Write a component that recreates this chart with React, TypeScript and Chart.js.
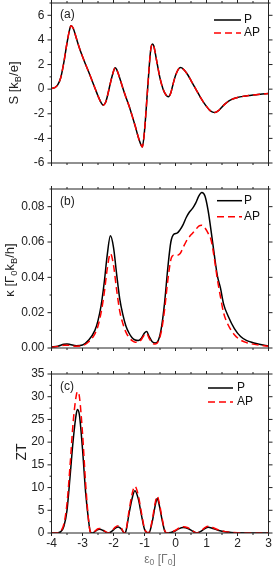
import React, { useEffect, useRef } from "react";
import { Chart, registerables } from "chart.js";

Chart.register(...registerables);

// ---------- data ----------
const xTicks = [-4, -3, -2, -1, 0, 1, 2, 3];
const sTicks = [-6, -4, -2, 0, 2, 4, 6];
const kTicks = [0, 0.02, 0.04, 0.06, 0.08];
const zTicks = [0, 5, 10, 15, 20, 25, 30, 35];
const seriesNames = ["P", "AP"];

const sX = [-4.0, -3.9, -3.8, -3.7, -3.6, -3.5, -3.4, -3.37, -3.3, -3.2, -3.1, -3.0, -2.9, -2.8, -2.7, -2.6, -2.5, -2.4, -2.33, -2.25, -2.2, -2.1, -2.0, -1.95, -1.9, -1.8, -1.7, -1.6, -1.5, -1.4, -1.3, -1.2, -1.1, -1.07, -1.0, -0.9, -0.8, -0.74, -0.7, -0.6, -0.5, -0.4, -0.3, -0.23, -0.15, -0.1, 0.0, 0.1, 0.17, 0.3, 0.4, 0.5, 0.6, 0.7, 0.8, 0.9, 1.0, 1.1, 1.2, 1.27, 1.4, 1.5, 1.6, 1.7, 1.8, 2.0, 2.2, 2.4, 2.6, 2.8, 3.0];
const sP = [0.05, 0.12, 0.35, 0.95, 2.2, 3.75, 5.0, 5.15, 4.95, 4.15, 3.35, 2.65, 2.0, 1.4, 0.75, 0.1, -0.55, -1.1, -1.3, -1.05, -0.6, 0.5, 1.45, 1.73, 1.6, 0.9, 0.1, -0.65, -1.35, -2.15, -3.0, -3.9, -4.6, -4.7, -3.4, 0.0, 3.2, 3.66, 3.5, 2.2, 0.9, 0.0, -0.5, -0.62, -0.3, 0.2, 1.1, 1.65, 1.75, 1.5, 1.15, 0.7, 0.25, -0.2, -0.65, -1.05, -1.4, -1.7, -1.87, -1.9, -1.72, -1.45, -1.2, -1.0, -0.85, -0.68, -0.58, -0.51, -0.45, -0.4, -0.35];
const sAP = [0.05, 0.12, 0.35, 0.95, 2.2, 3.75, 5.0, 5.15, 4.95, 4.15, 3.35, 2.65, 2.0, 1.4, 0.75, 0.1, -0.55, -1.1, -1.3, -1.05, -0.6, 0.5, 1.45, 1.73, 1.6, 0.9, 0.1, -0.65, -1.35, -2.15, -3.0, -3.9, -4.6, -4.7, -3.4, 0.0, 3.2, 3.66, 3.5, 2.2, 0.9, 0.0, -0.5, -0.62, -0.3, 0.2, 1.1, 1.65, 1.75, 1.5, 1.15, 0.7, 0.25, -0.2, -0.65, -1.05, -1.4, -1.7, -1.87, -1.9, -1.72, -1.45, -1.2, -1.0, -0.85, -0.68, -0.58, -0.51, -0.45, -0.4, -0.35];

const kX = [-4, -3.8, -3.6, -3.5, -3.4, -3.2, -3.0, -2.8, -2.6, -2.5, -2.4, -2.3, -2.2, -2.1, -2.0, -1.9, -1.8, -1.7, -1.6, -1.5, -1.4, -1.3, -1.2, -1.1, -1.0, -0.93, -0.85, -0.75, -0.65, -0.55, -0.45, -0.35, -0.25, -0.15, -0.05, 0.05, 0.15, 0.25, 0.35, 0.45, 0.55, 0.65, 0.75, 0.85, 0.95, 1.05, 1.15, 1.25, 1.35, 1.45, 1.55, 1.7, 1.9, 2.1, 2.3, 2.5, 2.7, 3.0];
const kP = [0.0006, 0.001, 0.0021, 0.0023, 0.002, 0.0013, 0.0017, 0.0045, 0.010, 0.0155, 0.024, 0.037, 0.053, 0.0635, 0.057, 0.042, 0.028, 0.019, 0.0125, 0.0085, 0.0058, 0.0045, 0.0042, 0.0055, 0.0085, 0.0093, 0.0065, 0.0035, 0.0028, 0.0045, 0.012, 0.026, 0.045, 0.060, 0.0645, 0.065, 0.067, 0.070, 0.074, 0.077, 0.079, 0.082, 0.086, 0.088, 0.086, 0.078, 0.066, 0.053, 0.041, 0.034, 0.025, 0.018, 0.011, 0.0065, 0.0042, 0.003, 0.0021, 0.0012];
const kAP = [0.0004, 0.0008, 0.0015, 0.0016, 0.0014, 0.001, 0.0013, 0.0035, 0.008, 0.0125, 0.020, 0.031, 0.045, 0.0535, 0.047, 0.033, 0.021, 0.014, 0.009, 0.006, 0.0042, 0.0033, 0.0033, 0.0048, 0.0075, 0.0082, 0.0055, 0.0028, 0.0022, 0.0038, 0.010, 0.022, 0.038, 0.050, 0.0525, 0.0525, 0.0535, 0.057, 0.0605, 0.063, 0.065, 0.067, 0.069, 0.0695, 0.068, 0.065, 0.061, 0.051, 0.039, 0.029, 0.020, 0.013, 0.0075, 0.0045, 0.003, 0.0022, 0.0016, 0.001];

const zX = [-4.0, -3.8, -3.7, -3.6, -3.5, -3.4, -3.3, -3.2, -3.16, -3.1, -3.0, -2.9, -2.8, -2.75, -2.7, -2.6, -2.5, -2.44, -2.35, -2.25, -2.15, -2.05, -1.95, -1.85, -1.75, -1.65, -1.6, -1.5, -1.4, -1.31, -1.2, -1.1, -1.0, -0.9, -0.85, -0.75, -0.65, -0.59, -0.52, -0.45, -0.35, -0.28, -0.15, 0.0, 0.1, 0.25, 0.4, 0.55, 0.68, 0.8, 0.95, 1.06, 1.2, 1.4, 1.6, 1.8, 2.0, 2.5, 3.0];
const zP = [0, 0.05, 0.3, 1.5, 5, 12.5, 20.5, 26.3, 27.2, 26.0, 18.5, 9, 2.5, 0.3, 0, 0.3, 0.75, 0.8, 0.6, 0.2, 0.02, 0.4, 1.0, 1.3, 0.9, 0.02, 0.4, 4.2, 7.6, 9.3, 7.5, 4.0, 0.8, 0.05, 0.1, 2.5, 6.2, 7.6, 6.0, 3.5, 0.5, 0, 0.1, 0.5, 0.9, 1.2, 1.0, 0.4, 0.02, 0.3, 1.0, 1.25, 1.0, 0.55, 0.25, 0.1, 0.04, 0.01, 0];
const zAP = [0, 0.05, 0.4, 2.0, 6.5, 15, 24.5, 30.3, 31.1, 30.0, 22, 11, 2.5, 0.3, 0, 0.4, 0.95, 1.0, 0.75, 0.25, 0.02, 0.5, 1.25, 1.6, 1.1, 0.02, 0.45, 4.8, 8.6, 10.3, 8.3, 4.5, 1.0, 0.05, 0.15, 2.9, 6.8, 8.1, 6.5, 3.9, 0.6, 0, 0.15, 0.6, 1.05, 1.4, 1.15, 0.5, 0.03, 0.35, 1.2, 1.5, 1.2, 0.65, 0.3, 0.12, 0.05, 0.01, 0];

// ---------- layout ----------
type Panel = {
  top: number; height: number; padTop: number; xHeight: number;
  yMin: number; yMax: number; yTicks: number[]; yMinor: number; dec: number;
  xLabels: boolean; x: number[]; p: number[]; ap: number[];
  tag: string; tagX: number; tagY: number;
  lg: { x1: number; x2: number; tx: number; y1: number; y2: number };
};

const FONT = "'Liberation Sans', Arial, sans-serif";
const W = 274;
const LEFT = 51.5;
const RIGHT_PAD = 5.5;

const panels: Panel[] = [
  { top: 0, height: 176, padTop: 3, xHeight: 13, yMin: -6, yMax: 7, yTicks: sTicks, yMinor: 1, dec: 0,
    xLabels: false, x: sX, p: sP, ap: sAP, tag: "(a)", tagX: 60, tagY: 15,
    lg: { x1: 214, x2: 241, tx: 244, y1: 20, y2: 33 } },
  { top: 176, height: 184, padTop: 13, xHeight: 12, yMin: 0, yMax: 0.09, yTicks: kTicks, yMinor: 0.01, dec: 2,
    xLabels: false, x: kX, p: kP, ap: kAP, tag: "(b)", tagX: 60, tagY: 26,
    lg: { x1: 217, x2: 242, tx: 244, y1: 24.7, y2: 40.7 } },
  { top: 360, height: 209, padTop: 14, xHeight: 36, yMin: 0, yMax: 35, yTicks: zTicks, yMinor: 2.5, dec: 0,
    xLabels: true, x: zX, p: zP, ap: zAP, tag: "(c)", tagX: 60, tagY: 27,
    lg: { x1: 208, x2: 233, tx: 237, y1: 28, y2: 42 } },
];

function isMajor(v: number, arr: number[]) {
  return arr.some((t) => Math.abs(t - v) < 1e-9);
}

function makePlugin(pn: Panel) {
  return {
    id: "frame",
    afterDatasetsDraw(chart: any) {
      const { ctx, chartArea: a, scales } = chart;
      ctx.save();
      ctx.strokeStyle = "#222";
      ctx.lineWidth = 1;
      ctx.setLineDash([]);
      ctx.strokeRect(a.left, a.top, a.right - a.left, a.bottom - a.top);
      const line = (x1: number, y1: number, x2: number, y2: number) => {
        ctx.beginPath(); ctx.moveTo(x1, y1); ctx.lineTo(x2, y2); ctx.stroke();
      };
      // x ticks
      const nx = Math.round((3 - -4) / 0.5);
      for (let i = 0; i <= nx; i++) {
        const v = -4 + i * 0.5;
        const px = scales.x.getPixelForValue(v);
        const len = isMajor(v, xTicks) ? 3 : 2;
        line(px, a.bottom, px, a.bottom + len);
        line(px, a.top, px, a.top - len);
      }
      // y ticks
      const ny = Math.round((pn.yMax - pn.yMin) / pn.yMinor);
      for (let i = 0; i <= ny; i++) {
        const v = pn.yMin + i * pn.yMinor;
        const py = scales.y.getPixelForValue(v);
        const len = isMajor(v, pn.yTicks) ? 4 : 2;
        line(a.left - len, py, a.left, py);
        line(a.right, py, a.right + len, py);
      }
      // panel tag
      ctx.fillStyle = "#222";
      ctx.font = `12px ${FONT}`;
      ctx.textBaseline = "middle";
      ctx.textAlign = "left";
      ctx.fillText(pn.tag, pn.tagX, pn.tagY);
      // legend
      const L = pn.lg;
      ctx.lineWidth = 1.5;
      ctx.strokeStyle = "#000";
      line(L.x1, L.y1, L.x2, L.y1);
      ctx.strokeStyle = "#ff0000";
      ctx.setLineDash([7, 4]);
      line(L.x1, L.y2, L.x2, L.y2);
      ctx.setLineDash([]);
      ctx.fillStyle = "#111";
      ctx.fillText(seriesNames[0], L.tx, L.y1);
      ctx.fillText(seriesNames[1], L.tx, L.y2);
      ctx.restore();
    },
  };
}

function makeConfig(pn: Panel): any {
  const pts = (ys: number[]) => pn.x.map((x, i) => ({ x, y: ys[i] }));
  return {
    type: "line",
    data: {
      datasets: [
        { label: seriesNames[0], data: pts(pn.p), borderColor: "#000", borderWidth: 1.5, pointRadius: 0,
          cubicInterpolationMode: "monotone", fill: false, order: 2 },
        { label: seriesNames[1], data: pts(pn.ap), borderColor: "#ff0000", borderWidth: 1.5, borderDash: [7, 4],
          pointRadius: 0, cubicInterpolationMode: "monotone", fill: false, order: 1 },
      ],
    },
    options: {
      animation: false,
      responsive: false,
      maintainAspectRatio: false,
      events: [],
      layout: { padding: { top: pn.padTop, right: RIGHT_PAD, left: 0, bottom: 0 } },
      plugins: { legend: { display: false }, tooltip: { enabled: false } },
      scales: {
        x: {
          type: "linear", min: -4, max: 3, position: "bottom",
          grid: { display: false, drawTicks: true, tickLength: 3 },
          border: { display: false },
          ticks: { display: pn.xLabels, autoSkip: false, maxRotation: 0, padding: 0, color: "#222",
            font: { family: FONT, size: 12 }, callback: (v: number) => String(v) },
          afterBuildTicks: (s: any) => { s.ticks = xTicks.map((v) => ({ value: v })); },
          afterFit: (s: any) => { s.height = pn.xHeight; s.paddingLeft = 0; s.paddingRight = 0; s.paddingTop = 0; s.paddingBottom = 0; },
        },
        y: {
          type: "linear", min: pn.yMin, max: pn.yMax, position: "left",
          grid: { display: false, drawTicks: true, tickLength: 4 },
          border: { display: false },
          ticks: { autoSkip: false, padding: 3, color: "#222", font: { family: FONT, size: 12 },
            callback: (v: number) => Number(v).toFixed(pn.dec) },
          afterBuildTicks: (s: any) => { s.ticks = pn.yTicks.map((v) => ({ value: v })); },
          afterFit: (s: any) => { s.width = LEFT; s.paddingLeft = 0; s.paddingRight = 0; s.paddingTop = 0; s.paddingBottom = 0; },
        },
      },
    },
    plugins: [makePlugin(pn)],
  };
}

function PanelChart({ pn }: { pn: Panel }) {
  const ref = useRef<HTMLCanvasElement>(null);
  useEffect(() => {
    const chart = new Chart(ref.current as HTMLCanvasElement, makeConfig(pn));
    return () => chart.destroy();
  }, [pn]);
  return (
    <canvas ref={ref} width={W} height={pn.height}
      style={{ position: "absolute", left: 0, top: pn.top, width: W, height: pn.height, display: "block" }} />
  );
}

const subStyle: React.CSSProperties = { fontSize: "0.72em", verticalAlign: "-0.3em", lineHeight: 1 };

function YTitle({ cx, cy, size, children }: { cx: number; cy: number; size: number; children: React.ReactNode }) {
  return (
    <div style={{ position: "absolute", left: cx, top: cy, transform: "translate(-50%, -50%) rotate(-90deg)",
      whiteSpace: "nowrap", fontFamily: FONT, fontSize: size, color: "#222", lineHeight: 1 }}>
      {children}
    </div>
  );
}

export default function App() {
  return (
    <div style={{ position: "fixed", left: 0, top: 0, width: W, height: 569, background: "#fff", overflow: "hidden" }}>
      {panels.map((pn, i) => <PanelChart key={i} pn={pn} />)}
      <YTitle cx={15} cy={83} size={13}>S [k<span style={subStyle}>B</span>/e]</YTitle>
      <YTitle cx={11} cy={270} size={13}>κ [Γ<span style={subStyle}>0</span>k<span style={subStyle}>B</span>/h]</YTitle>
      <YTitle cx={21} cy={452} size={14}>ZT</YTitle>
      <div style={{ position: "absolute", left: 160, top: 560, transform: "translate(-50%, -50%)", whiteSpace: "nowrap",
        fontFamily: FONT, fontSize: 12, color: "#777", lineHeight: 1 }}>
        ε<span style={subStyle}>0</span> [Γ<span style={subStyle}>0</span>]
      </div>
    </div>
  );
}
